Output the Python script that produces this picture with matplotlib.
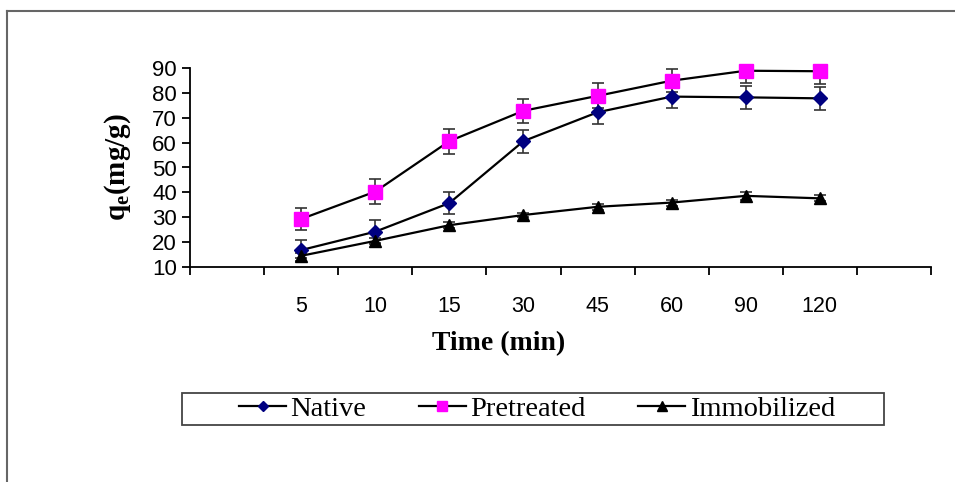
import matplotlib.pyplot as plt
from matplotlib.lines import Line2D
from matplotlib.patches import Rectangle

# categories (empty slots at both ends, like the original sheet)
categories = ['', '5', '10', '15', '30', '45', '60', '90', '120', '']
times = ['5', '10', '15', '30', '45', '60', '90', '120']

native = [16.8, 24.2, 35.7, 60.6, 72.2, 78.5, 78.2, 77.8]
native_err = [4.2, 4.7, 4.4, 4.6, 4.9, 4.6, 4.5, 4.5]
pretreated = [29.3, 40.3, 60.6, 72.8, 78.8, 84.9, 88.9, 88.7]
pretreated_err = [4.6, 5.0, 5.0, 4.8, 5.0, 4.6, 5.0, 5.0]
immobilized = [14.5, 20.5, 26.8, 30.9, 34.2, 35.9, 38.6, 37.6]
immobilized_err = [1.0, 1.2, 1.2, 1.0, 1.2, 1.2, 1.5, 1.2]

plt.rcParams['font.family'] = 'Liberation Sans'
plt.rcParams['mathtext.fontset'] = 'custom'
plt.rcParams['mathtext.rm'] = 'Liberation Serif'
plt.rcParams['mathtext.bf'] = 'Liberation Serif:bold'

fig = plt.figure(figsize=(9.55, 4.82), dpi=100)
ax = fig.add_axes([190 / 955, 1 - 267 / 482, 741 / 955, 199 / 482])

x = [categories.index(t) for t in times]

series = [
    (native, native_err, 'D', '#000080', 7, 'Native'),
    (pretreated, pretreated_err, 's', '#FF00FF', 10, 'Pretreated'),
    (immobilized, immobilized_err, '^', 'black', 9, 'Immobilized'),
]
for vals, err, mk, col, ms, name in series:
    ax.errorbar(x, vals, yerr=err, fmt='none', ecolor='#333333',
                elinewidth=1.2, capsize=4, capthick=1.2, zorder=2)
    ax.plot(x, vals, color='black', lw=1.6, marker=mk, markersize=ms,
            markerfacecolor=col, markeredgecolor=col, zorder=3, clip_on=False)

ax.set_xlim(-0.5, len(categories) - 0.5)
ax.set_ylim(10, 90)
ax.set_yticks(range(10, 91, 10))

# tick marks between categories, labels at the centres
ax.set_xticks([i - 0.5 for i in range(len(categories) + 1)])
ax.set_xticklabels([])
ax.set_xticks(range(len(categories)), minor=True)
ax.set_xticklabels(categories, minor=True)
ax.tick_params(axis='x', which='major', direction='out', length=6, width=1.3)
ax.tick_params(axis='x', which='minor', length=0, pad=21, labelsize=15.5)
ax.tick_params(axis='y', direction='out', length=5.5, width=1.3, pad=4,
               labelsize=16)

for s in ['top', 'right']:
    ax.spines[s].set_visible(False)
for s in ['left', 'bottom']:
    ax.spines[s].set_linewidth(1.3)

ax.set_xlabel('Time (min)', family='Liberation Serif', fontweight='bold',
              fontsize=20)
ax.xaxis.set_label_coords(0.416, -0.32)
ax.set_ylabel(r'$\mathbf{q_e}$(mg/g)', family='Liberation Serif',
              fontweight='bold', fontsize=21)
ax.yaxis.set_label_coords(-0.077, 0.5)

# legend
handles = [Line2D([], [], color='black', lw=1.6, marker=mk, markersize=ms * 0.75,
                  markerfacecolor=col, markeredgecolor=col)
           for _, _, mk, col, ms, _ in series]
fig.legend(handles, [s[5] for s in series], loc='center',
           bbox_to_anchor=(537 / 955, 1 - 409 / 482), ncol=3, frameon=False,
           prop={'family': 'Liberation Serif', 'size': 20.5},
           handlelength=1.65, handletextpad=0.15, columnspacing=1.85)
fig.patches.append(Rectangle((182 / 955, 1 - 425 / 482), 702 / 955, 32 / 482,
                             transform=fig.transFigure, fill=False,
                             edgecolor='#444444', lw=1.3))

# outer frame of the chart area
fig.add_artist(Line2D([7 / 955, 1], [1 - 11 / 482] * 2,
                      transform=fig.transFigure, color='#666666', lw=1.5))
fig.add_artist(Line2D([7 / 955] * 2, [0, 1 - 11 / 482],
                      transform=fig.transFigure, color='#666666', lw=1.5))

plt.savefig('out.png', dpi=100)
plt.close()
